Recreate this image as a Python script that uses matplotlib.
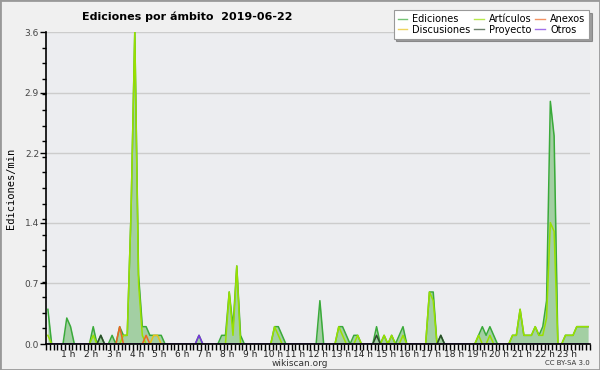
import matplotlib
matplotlib.use("Agg")
import matplotlib.pyplot as plt
import numpy as np
from matplotlib.patches import Rectangle

# Ediciones por minuto, un valor cada 10 minutos (6 por hora)
ediciones = [
    0.4, 0, 0, 0, 0, 0.3,
    0.2, 0, 0, 0, 0, 0,
    0.2, 0, 0.1, 0, 0, 0.1,
    0, 0.2, 0.1, 0.1, 1.5, 3.6,
    0.8, 0.2, 0.2, 0.1, 0.1, 0.1,
    0.1, 0, 0, 0, 0, 0,
    0, 0, 0, 0, 0.1, 0,
    0, 0, 0, 0, 0.1, 0.1,
    0.6, 0.2, 0.9, 0.1, 0, 0,
    0, 0, 0, 0, 0, 0,
    0.2, 0.2, 0.1, 0, 0, 0,
    0, 0, 0, 0, 0, 0,
    0.5, 0, 0, 0, 0, 0.2,
    0.2, 0.1, 0, 0.1, 0.1, 0,
    0, 0, 0, 0.2, 0, 0.1,
    0, 0.1, 0, 0.1, 0.2, 0,
    0, 0, 0, 0, 0, 0.6,
    0.6, 0, 0.1, 0, 0, 0,
    0, 0, 0, 0, 0, 0,
    0.1, 0.2, 0.1, 0.2, 0.1, 0,
    0, 0, 0, 0.1, 0.1, 0.4,
    0.1, 0.1, 0.1, 0.2, 0.1, 0.2,
    0.5, 2.8, 2.4, 0, 0, 0.1,
    0.1, 0.1, 0.2, 0.2, 0.2, 0.2,
]
articulos = [
    0.1, 0, 0, 0, 0, 0,
    0, 0, 0, 0, 0, 0,
    0.1, 0, 0, 0, 0, 0,
    0, 0, 0.1, 0.1, 1.5, 3.6,
    0.7, 0.1, 0, 0, 0, 0,
    0, 0, 0, 0, 0, 0,
    0, 0, 0, 0, 0, 0,
    0, 0, 0, 0, 0, 0,
    0.6, 0.1, 0.9, 0, 0, 0,
    0, 0, 0, 0, 0, 0,
    0.2, 0.1, 0, 0, 0, 0,
    0, 0, 0, 0, 0, 0,
    0, 0, 0, 0, 0, 0.2,
    0.1, 0, 0, 0, 0.1, 0,
    0, 0, 0, 0, 0, 0.1,
    0, 0.1, 0, 0, 0.1, 0,
    0, 0, 0, 0, 0, 0.6,
    0.5, 0, 0, 0, 0, 0,
    0, 0, 0, 0, 0, 0,
    0.1, 0, 0, 0.1, 0, 0,
    0, 0, 0, 0.1, 0.1, 0.4,
    0.1, 0.1, 0.1, 0.2, 0.1, 0.1,
    0.3, 1.4, 1.3, 0, 0, 0.1,
    0.1, 0.1, 0.2, 0.2, 0.2, 0.2,
]
# series casi vacías: {intervalo: valor}
anexos = {19: 0.2, 26: 0.1}
discusiones = {28: 0.1, 29: 0.1}
proyecto = {14: 0.1, 87: 0.1, 104: 0.1}
otros = {40: 0.1}

y_ticks = [0.0, 0.7, 1.4, 2.2, 2.9, 3.6]
hour_labels = ["%d h" % h for h in range(1, 24)]


def sparse(d, n=144):
    arr = np.zeros(n)
    for k, v in d.items():
        arr[k] = v
    return arr


n = len(ediciones)
x = (np.arange(n) + 0.5) / 6.0

fig = plt.figure(figsize=(6, 3.7), dpi=100, facecolor="#f0f0f0")
ax = fig.add_axes([46 / 600, 26 / 370, 544 / 600, 312 / 370])
ax.set_facecolor("#ecedf0")

ax.fill_between(x, ediciones, color="#a3cfa3", lw=0)
ax.plot(x, ediciones, color="#3aaa3a", lw=1.1, label="Ediciones")
ax.plot(x, articulos, color="#99e000", lw=1.1, label="Artículos")
ax.plot(x, sparse(anexos), color="#ee6622", lw=1.1, label="Anexos")
ax.plot(x, sparse(discusiones), color="#e8c21a", lw=1.1, label="Discusiones")
ax.plot(x, sparse(proyecto), color="#2c4a2c", lw=1.1, label="Proyecto")
ax.plot(x, sparse(otros), color="#7a33e0", lw=1.1, label="Otros")

ax.set_xlim(0, 24)
ax.set_ylim(0, 3.6)

ax.set_yticks(y_ticks)
ax.set_yticklabels(["%.1f" % v for v in y_ticks], fontsize=6.5, color="#444444")
ax.set_yticks(np.arange(0, 3.61, 0.18), minor=True)
ax.set_xticks(np.arange(1, 24))
ax.set_xticklabels(hour_labels, fontsize=6.5, color="#222222")
ax.set_xticks(np.arange(0, 24.01, 1 / 6), minor=True)
ax.tick_params(axis="x", which="major", length=4, width=1, pad=0)
ax.tick_params(axis="y", which="major", length=4, width=1, pad=1)
ax.tick_params(axis="x", which="minor", length=4, width=1)
ax.tick_params(axis="y", which="minor", length=3, width=1)

ax.grid(axis="y", which="major", color="#cccccc", lw=1)
ax.set_axisbelow(True)
for s in ["top", "right"]:
    ax.spines[s].set_visible(False)
for s in ["left", "bottom"]:
    ax.spines[s].set_color("black")
    ax.spines[s].set_linewidth(1.2)

ax.set_ylabel("Ediciones/min", fontsize=7.5, labelpad=6,
              family="DejaVu Sans Mono")

handles, labels = ax.get_legend_handles_labels()
order = [0, 3, 1, 4, 2, 5]
leg = fig.legend([handles[i] for i in order], [labels[i] for i in order],
                 ncol=3, loc="upper right", bbox_to_anchor=(0.99, 0.985),
                 fontsize=7, frameon=True, fancybox=False, shadow=True,
                 handlelength=1.0, handletextpad=0.5, columnspacing=0.4,
                 labelspacing=0.05, borderpad=0.4)
leg.get_frame().set_edgecolor("#999999")
leg.get_frame().set_linewidth(0.8)
for line in leg.get_lines():
    line.set_linewidth(1.0)
    line.set_alpha(0.7)

fig.text(187 / 600, 1 - 17 / 370, "Ediciones por ámbito  2019-06-22",
         ha="center", va="center", fontsize=8, fontweight="bold")
fig.text(300 / 600, 1 - 363 / 370, "wikiscan.org", ha="center", va="center",
         fontsize=6.5, color="#333333")
fig.text(590 / 600, 1 - 363 / 370, "CC BY-SA 3.0", ha="right", va="center",
         fontsize=5, color="#333333")

fig.patches.append(Rectangle((0, 0), 1, 1, transform=fig.transFigure,
                             fill=False, edgecolor="#999999", lw=2))

fig.savefig("out.png", dpi=100, facecolor=fig.get_facecolor())
